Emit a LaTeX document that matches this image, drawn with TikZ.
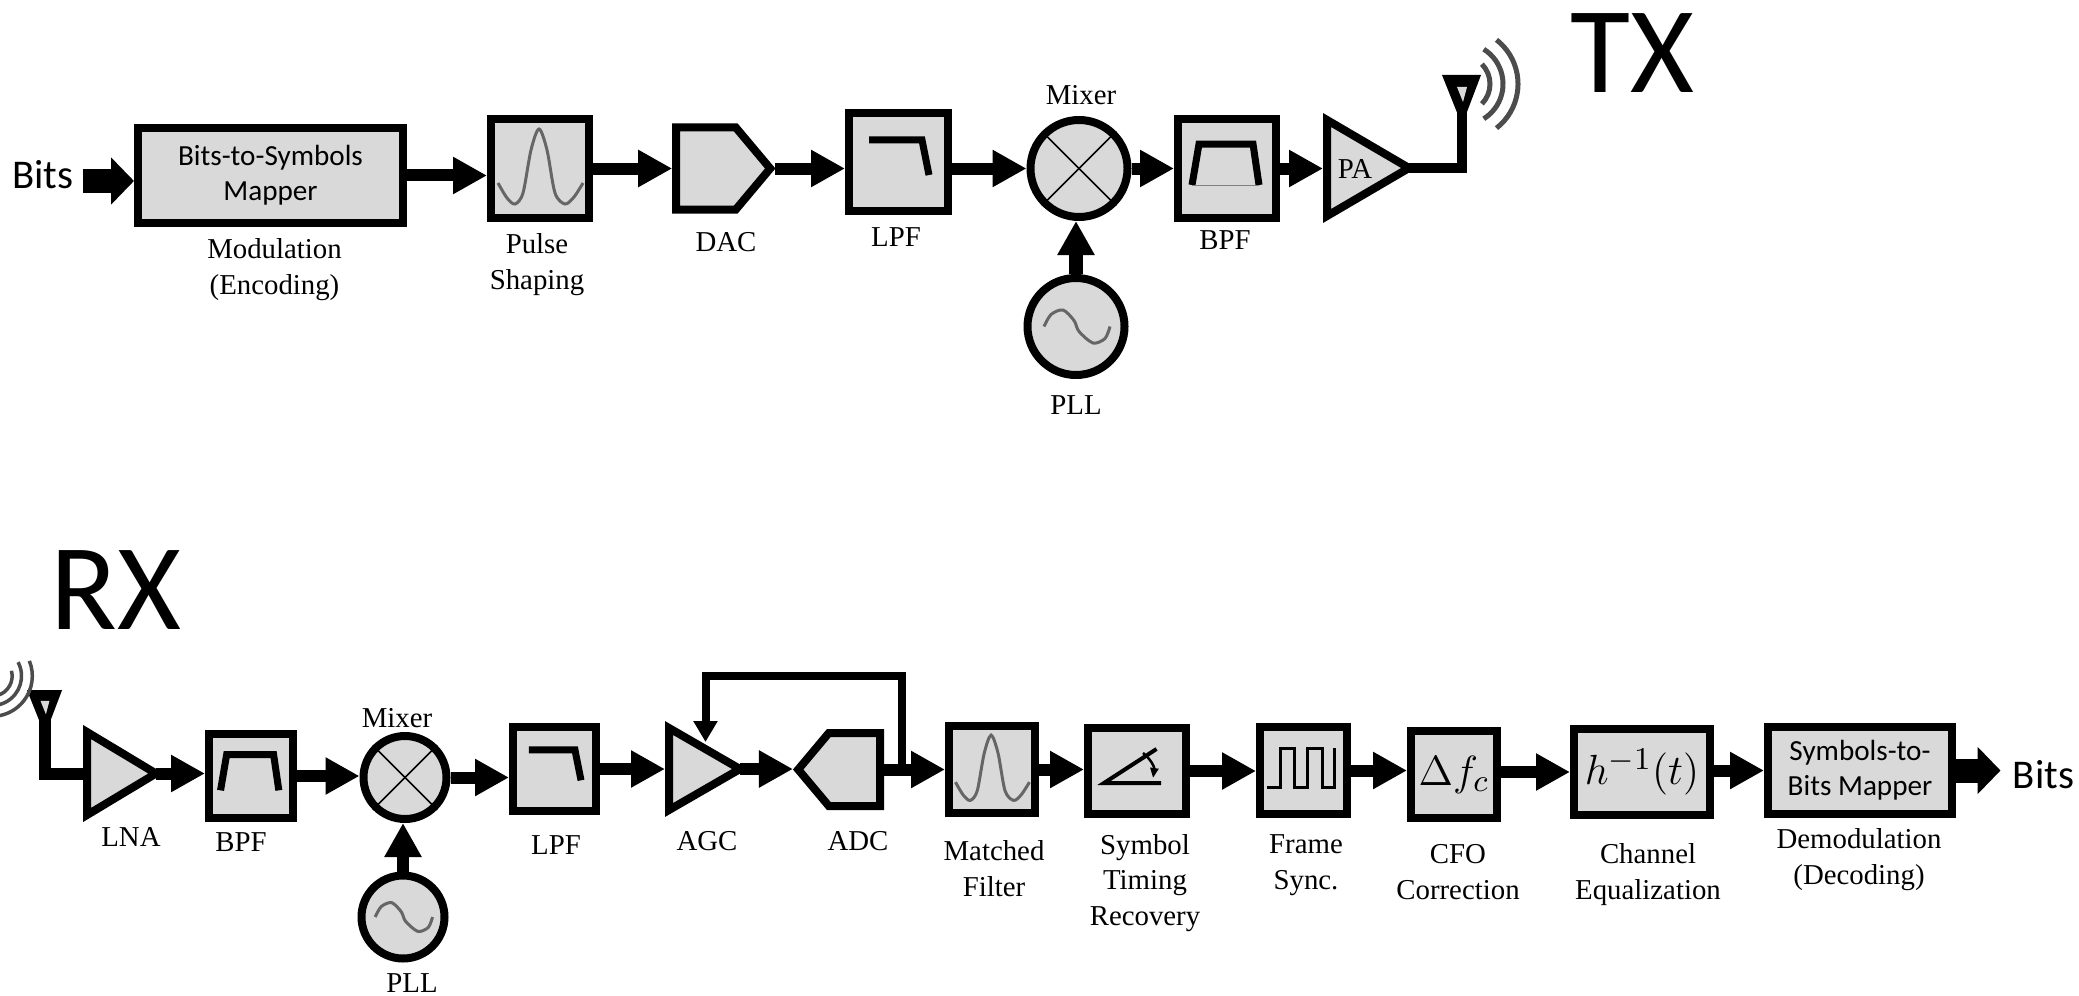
\documentclass[tikz,border=0pt]{standalone}
\usepackage{fontspec}
\setmainfont{Liberation Serif}
\newfontfamily\calibri{Carlito}
\usetikzlibrary{arrows.meta,shapes.geometric,shapes.symbols}
\definecolor{blockgray}{HTML}{D9D9D9}
\newcommand{\labfont}{\fontsize{8.2}{10.2}\selectfont}
\newcommand{\mapfont}{\calibri\fontsize{8.3}{10}\selectfont}
\newcommand{\bitfont}{\calibri\fontsize{11.6}{12}\selectfont}
\newcommand{\bigfont}{\calibri\fontsize{35}{35}\selectfont}
\tikzset{
  blockbox/.style={draw, fill=blockgray, line width=.08cm, align=center, font=\mapfont, inner sep=0pt},
  roundbox/.style={circle, blockbox},
  ampbox/.style={isosceles triangle, isosceles triangle stretches, blockbox, anchor=lower side},
  convbox/.style={signal, blockbox},
  lab/.style={align=center, font=\labfont, inner sep=0pt},
  conn/.style={line width=.12cm, -{Triangle[length=.34cm,width=.35cm]}},
  fatconn/.style={line width=.24cm, -{Triangle[length=.23cm,width=.46cm]}},
  fbconn/.style={line width=.08cm, -{Triangle[length=.21cm,width=.23cm]}},
  icon/.style={line width=.07cm},
  curve/.style={line width=.03cm, black!60, smooth},
  wave/.style={line width=.05cm, black!70},
  sincicon/.pic={\draw[curve] plot coordinates {(-.42,-.145) (-.33,-.295) (-.25,-.355) (-.17,-.245)
    (-.09,.185) (-.01,.395) (.07,.185) (.15,-.245) (.25,-.355) (.34,-.285) (.43,-.145)};},
  sineicon/.pic={\draw[curve] plot coordinates {(-.32,0) (-.25,.12) (-.13,.165) (-.02,.06)
    (.03,-.05) (.17,-.165) (.29,-.12) (.34,0)};},
  lpficon/.pic={\draw[icon] (-.295,.22) -- (.235,.22) -- (.305,-.13);},
  bpficon/.pic={\draw[icon] (-.35,-.165) -- (-.28,.245) -- (.26,.245) -- (.32,-.165);},
  antenna/.pic={\fill (-.2,0) -- (.19,0) -- (0,-.5) -- cycle;
    \fill[blockgray] (-.05,-.12) -- (.05,-.12) -- (.01,-.27) -- cycle;},
  waves/.pic={\draw[wave] (45:.28) arc (45:-45:.28);
    \draw[wave] (58:.41) arc (58:-58:.41);
    \draw[wave] (52:.56) arc (52:-52:.56);}
}
\begin{document}
\begin{tikzpicture}
  \useasboundingbox (0,0) rectangle (20.79,9.95);
  % TX chain
  \node[font=\bigfont] (txtitle) at (16.32,9.42) {TX};
  \node[font=\bitfont] (bitsin) at (.43,8.20) {Bits};
  \coordinate (bitsgo) at (.83,8.14);
  \node[blockbox, minimum width=2.65cm, minimum height=.94cm] (mapper) at (2.705,8.195) {Bits-to-Symbols\\Mapper};
  \node[blockbox, minimum width=.98cm, minimum height=.99cm] (pulse) at (5.40,8.265) {};
  \node[convbox, minimum width=.94cm, minimum height=.82cm, signal pointer angle=100] (dac) at (7.06,8.265) {};
  \node[blockbox, minimum width=.99cm, minimum height=.98cm] (lpf) at (8.985,8.33) {};
  \node[roundbox, minimum size=.97cm] (mixer) at (10.79,8.265) {};
  \node[blockbox, minimum width=.98cm, minimum height=.99cm] (bpf) at (12.27,8.265) {};
  \node[ampbox, minimum width=.96cm, minimum height=.82cm] (pa) at (13.23,8.27) {};
  \node[roundbox, minimum size=.97cm] (pll) at (10.76,6.685) {};
  \coordinate (txant) at (14.62,9.20);
  \draw[line width=.10cm, shorten <=-.1cm] (pa.apex) -| (txant);
  \pic at (txant) {antenna};
  \pic at (14.62,9.11) {waves};
  \pic at (pulse) {sincicon};
  \pic at (lpf) {lpficon};
  \pic at (bpf) {bpficon};
  \pic at (pll) {sineicon};
  \draw[line width=.015cm] (mixer.45) -- (mixer.225);
  \draw[line width=.015cm] (mixer.135) -- (mixer.315);
  \draw[line width=.01cm, gray] (11.92,8.10) -- (12.59,8.10);
  \node[lab] (modlab) at (2.745,7.25) {Modulation\\(Encoding)};
  \node[lab] (pulselab) at (5.37,7.30) {Pulse\\Shaping};
  \node[lab] (daclab) at (7.26,7.53) {DAC};
  \node[lab] (lpflab) at (8.96,7.58) {LPF};
  \node[lab] (mixlab) at (10.81,9.00) {Mixer};
  \node[lab] (bpflab) at (12.25,7.55) {BPF};
  \node[lab] (palab) at (13.55,8.26) {PA};
  \node[lab] (plllab) at (10.76,5.90) {PLL};
  \draw[fatconn] (bitsgo) -- (bitsgo -| mapper.west);
  \draw[conn] (mapper.east) -- (mapper.east -| pulse.west);
  \draw[conn] (pulse.east) -- (pulse.east -| dac.west);
  \draw[conn] (dac.east) -- (dac.east -| lpf.west);
  \draw[conn] (mixer.west -| lpf.east) -- (mixer.west);
  \draw[conn] (mixer.east) -- (mixer.east -| bpf.west);
  \draw[conn] (bpf.east) -- (bpf.east -| pa.lower side);
  \draw[conn, line width=.14cm] (pll.north) -- (pll.north |- mixer.south);
  % RX chain
  \node[font=\bigfont] (rxtitle) at (1.16,4.05) {RX};
  \coordinate (rxant) at (.45,3.05);
  \node[ampbox, minimum width=.83cm, minimum height=.69cm] (lna) at (.83,2.215) {};
  \draw[line width=.12cm] (rxant) |- (lna.lower side);
  \pic[scale=.9] at (rxant) {antenna};
  \pic[scale=.72, rotate=-30, wave/.append style={line width=.035cm}] at (-.08,3.19) {waves};
  \node[blockbox, minimum width=.84cm, minimum height=.84cm] (bpftwo) at (2.51,2.19) {};
  \node[roundbox, minimum size=.83cm] (mixtwo) at (4.05,2.175) {};
  \node[roundbox, minimum size=.83cm] (plltwo) at (4.03,.78) {};
  \node[blockbox, minimum width=.83cm, minimum height=.84cm] (lpftwo) at (5.545,2.26) {};
  \node[ampbox, minimum width=.82cm, minimum height=.71cm] (agc) at (6.65,2.26) {};
  \node[convbox, minimum width=.82cm, minimum height=.73cm, signal to=west, signal pointer angle=100] (adc) at (8.545,2.255) {};
  \node[blockbox, minimum width=.86cm, minimum height=.87cm] (match) at (9.92,2.255) {};
  \node[blockbox, minimum width=.98cm, minimum height=.86cm] (sym) at (11.37,2.24) {};
  \node[blockbox, minimum width=.87cm, minimum height=.87cm] (frame) at (13.035,2.245) {};
  \node[blockbox, minimum width=.86cm, minimum height=.87cm, font=\fontsize{12.5}{12}\selectfont] (cfo) at (14.54,2.205) {$\Delta f_c$};
  \node[blockbox, minimum width=1.36cm, minimum height=.86cm, font=\fontsize{13.2}{12}\selectfont] (eq) at (16.42,2.23) {$h^{-1}(t)$};
  \node[blockbox, minimum width=1.84cm, minimum height=.87cm] (demod) at (18.60,2.245) {Symbols-to-\\Bits Mapper};
  \node[font=\bitfont] (bitsout) at (20.435,2.20) {Bits};
  \pic[scale=.87] at (bpftwo) {bpficon};
  \pic[scale=.87] at (lpftwo) {lpficon};
  \pic[scale=.87] at (plltwo) {sineicon};
  \pic[scale=.87] at (match) {sincicon};
  \draw[line width=.015cm] (mixtwo.45) -- (mixtwo.225);
  \draw[line width=.015cm] (mixtwo.135) -- (mixtwo.315);
  \draw[line width=.04cm] (11.565,2.46) -- (11.04,2.12) -- (11.61,2.12);
  \draw[line width=.025cm, -{Triangle[length=.10cm,width=.08cm]}] (11.43,2.42) to[bend left=30] (11.53,2.17);
  \draw[line width=.03cm] (12.67,2.08) -- (12.805,2.08) -- (12.805,2.47) -- (12.94,2.47) -- (12.94,2.08)
    -- (13.07,2.08) -- (13.07,2.47) -- (13.22,2.47) -- (13.22,2.08) -- (13.34,2.08) -- (13.34,2.47);
  \node[lab] (lnalab) at (1.31,1.58) {LNA};
  \node[lab] (bpftwolab) at (2.41,1.53) {BPF};
  \node[lab] (mixtwolab) at (3.97,2.77) {Mixer};
  \node[lab] (plltwolab) at (4.12,.12) {PLL};
  \node[lab] (lpftwolab) at (5.56,1.50) {LPF};
  \node[lab] (agclab) at (7.07,1.54) {AGC};
  \node[lab] (adclab) at (8.58,1.54) {ADC};
  \node[lab] (matchlab) at (9.94,1.265) {Matched\\Filter};
  \node[lab] (symlab) at (11.45,1.12) {Symbol\\Timing\\Recovery};
  \node[lab] (framelab) at (13.06,1.30) {Frame\\Sync.};
  \node[lab] (cfolab) at (14.58,1.225) {CFO\\Correction};
  \node[lab] (eqlab) at (16.48,1.205) {Channel\\Equalization};
  \node[lab] (demodlab) at (18.59,1.355) {Demodulation\\(Decoding)};
  \draw[conn, shorten <=-.1cm] (lna.apex) -- (lna.apex -| bpftwo.west);
  \draw[conn] (bpftwo.east) -- (bpftwo.east -| mixtwo.west);
  \draw[conn] (mixtwo.east) -- (mixtwo.east -| lpftwo.west);
  \draw[conn] (lpftwo.east) -- (lpftwo.east -| agc.lower side);
  \draw[conn, shorten <=-.1cm] (agc.apex) -- (agc.apex -| adc.west);
  \draw[conn] (adc.east) -- (adc.east -| match.west);
  \draw[conn] (match.east) -- (match.east -| sym.west);
  \draw[conn] (sym.east) -- (sym.east -| frame.west);
  \draw[conn] (frame.east) -- (frame.east -| cfo.west);
  \draw[conn] (eq.west -| cfo.east) -- (eq.west);
  \draw[conn] (demod.west -| eq.east) -- (demod.west);
  \draw[fatconn] (demod.east) -- (demod.east -| bitsout.west);
  \draw[conn] (plltwo.north) -- (plltwo.north |- mixtwo.south);
  \coordinate (fbtap) at (9.02,2.26);
  \coordinate (fbtop) at (7.055,3.195);
  \coordinate (agcin) at (7.055,2.53);
  \draw[fbconn] (fbtap) -- (fbtap |- fbtop) -- (fbtop) -- (agcin);
\end{tikzpicture}
\end{document}
